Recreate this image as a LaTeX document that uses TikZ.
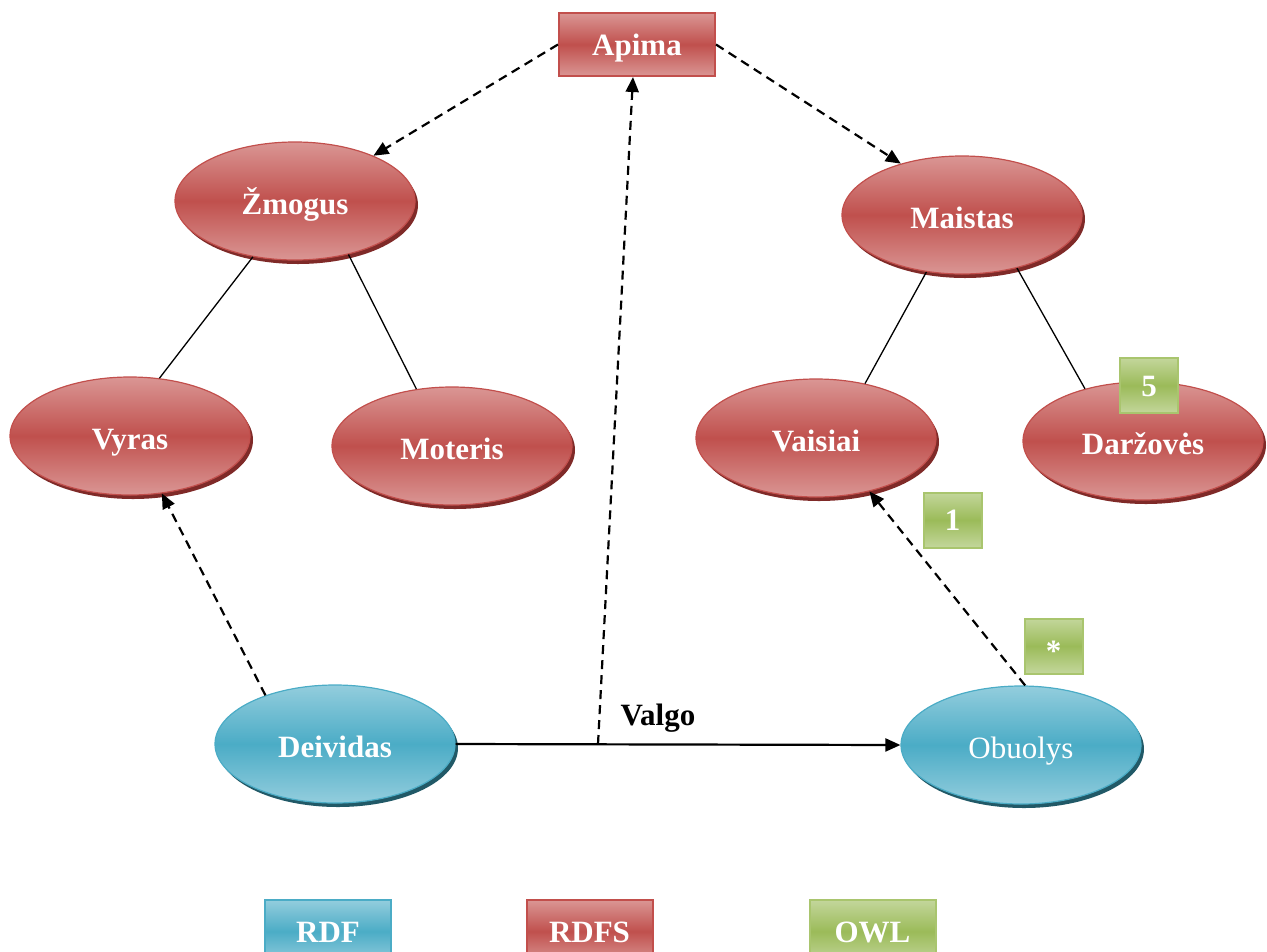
\documentclass[tikz,border=0pt]{standalone}
\usepackage{fontspec}
\setmainfont{Liberation Serif}
\usetikzlibrary{shapes.geometric,shadows,arrows.meta}
\definecolor{redM}{HTML}{C0504D}
\definecolor{redL}{HTML}{DA9694}
\definecolor{redS}{HTML}{7F2A28}
\definecolor{redB}{HTML}{C24F4C}
\definecolor{blueM}{HTML}{4BACC6}
\definecolor{blueL}{HTML}{93CDDD}
\definecolor{blueS}{HTML}{215967}
\definecolor{greenM}{HTML}{9BBB59}
\definecolor{greenL}{HTML}{C3D69B}
\definecolor{greenB}{HTML}{A9C56E}
\tikzset{
  lbl/.style={font=\fontsize{31}{36}\selectfont\bfseries, text=white},
  ovaltext/.style={text height=26.5pt, text depth=0pt},
  boxtext/.style={text height=21pt, text depth=0pt},
  redshade/.style={top color=redL, bottom color=redL, middle color=redM},
  blueshade/.style={top color=blueL, bottom color=blueL, middle color=blueM},
  greenshade/.style={top color=greenL, bottom color=greenL, middle color=greenM},
  classnode/.style={ellipse, minimum width=240pt, minimum height=118pt, inner sep=0pt,
    draw=redB, line width=1.2pt, redshade,
    general shadow={fill=redS, shadow xshift=3pt, shadow yshift=-4pt}, lbl, ovaltext},
  instnode/.style={ellipse, minimum width=240pt, minimum height=118pt, inner sep=0pt,
    draw=blueM, line width=1.2pt, blueshade,
    general shadow={fill=blueS, shadow xshift=3pt, shadow yshift=-4pt}, lbl, ovaltext},
  redbox/.style={rectangle, minimum width=156pt, minimum height=63pt, inner sep=0pt,
    draw=redB, line width=2pt, redshade, lbl, boxtext},
  legendbox/.style={rectangle, minimum width=126pt, minimum height=63pt, inner sep=0pt,
    line width=2pt, lbl, boxtext},
  cardbox/.style={rectangle, minimum width=58pt, minimum height=55pt, inner sep=0pt,
    draw=greenB, line width=2pt, greenshade, lbl, boxtext},
  treeline/.style={line width=1.3pt, black},
  dashlink/.style={line width=2.2pt, dash pattern=on 9pt off 6pt,
    -{Triangle[length=15pt,width=13pt]}},
  solidlink/.style={line width=2.2pt, -{Triangle[length=15pt,width=13pt]}},
}
\begin{document}
\begin{tikzpicture}[x=1pt,y=-1pt]
\useasboundingbox (0,0) rectangle (1267,951);
\clip (0,0) rectangle (1267,951);

% property box
\node[redbox] (ap) at (637,44.5) {Apima};

% class hierarchy
\node[classnode] (zm) at (295,201) {Žmogus};
\node[classnode] (ma) at (962,215) {Maistas};
\node[classnode] (vy) at (130,436) {Vyras};
\node[classnode] (mo) at (452,446) {Moteris};
\node[classnode] (va) at (816,438) {Vaisiai};
\node[classnode] (da) at (1143,441) {Daržovės};

% individuals
\node[instnode] (de) at (335,744) {Deividas};
\node[instnode, font=\fontsize{31}{36}\selectfont] (ob) at (1021,745) {Obuolys};

% subclass edges
\draw[treeline] (zm.233) -- (vy.63);
\draw[treeline] (zm.-45) -- (mo.122);
\draw[treeline] (ma.238) -- (va.48);
\draw[treeline] (ma.-44) -- (da.138);

% domain / range links
\draw[dashlink] (ap.west) -- (zm.30);
\draw[dashlink] (ap.east) -- (ma.140);

% type links
\draw[dashlink] (de.145.6) -- (vy.-61);
\draw[dashlink] (ob.86) -- (va.-45.5);

% property instance
\draw[solidlink] (de.east) -- (ob.west);
\coordinate (vj) at (598,744);
\draw[dashlink] (vj) -- ([xshift=-4pt]ap.south);
\node[font=\fontsize{31}{36}\selectfont\bfseries, anchor=base] (valgo) at (658,725) {Valgo};

% cardinality marks
\node[cardbox] (c5) at (1149,385.5) {5};
\node[cardbox] (c1) at (952.5,520) {1};
\node[cardbox] (cs) at (1053.5,646) {\raisebox{-5pt}{*}};

% legend
\node[legendbox, draw=blueM, blueshade] (lrdf) at (328,931.5) {RDF};
\node[legendbox, draw=redB, redshade] (lrdfs) at (589.5,931.5) {RDFS};
\node[legendbox, draw=greenB, greenshade] (lowl) at (872.5,931.5) {OWL};
\end{tikzpicture}
\end{document}
